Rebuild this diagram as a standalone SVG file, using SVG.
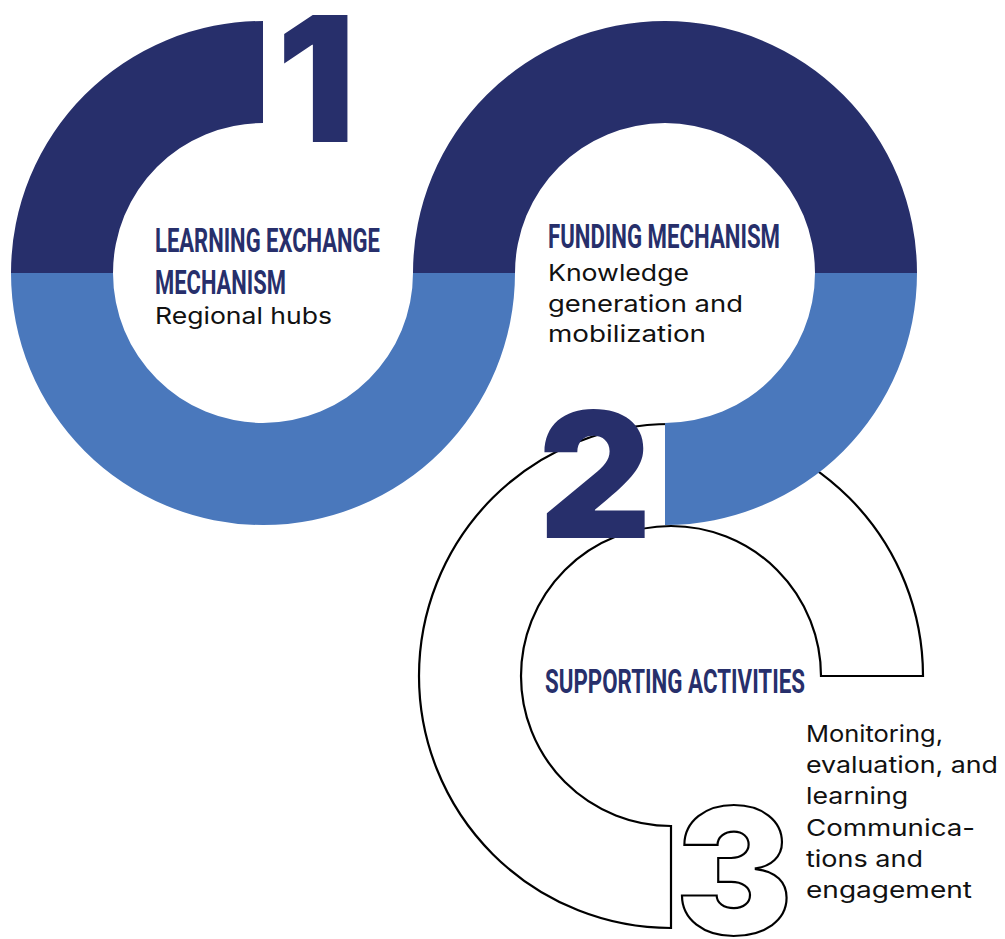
<svg xmlns="http://www.w3.org/2000/svg" width="1005" height="939" viewBox="0 0 1005 939">
  <style>
    .dark { fill: #272f6b; }
    .blue { fill: #4a78bc; }
    .outline { fill: #ffffff; stroke: #000000; stroke-width: 2.2; stroke-linejoin: miter; }
    .head { font-family: "Liberation Sans Narrow", "Roboto", "Liberation Sans", sans-serif; font-weight: 700; font-size: 33px; fill: #272f6b; }
    .body { font-family: "Inter", "Open Sans", "Liberation Sans", sans-serif; font-weight: 400; font-size: 23px; fill: #111111; }
    .num { font-family: "Inter", "Roboto", "Liberation Sans", sans-serif; font-weight: 900; font-size: 175px; text-anchor: middle; }
  </style>
  <rect width="1005" height="939" fill="#ffffff"/>

  <g id="supporting-activities">
    <path class="outline" d="M 923 676 A 252 252 0 1 0 671 928 L 671 826 A 150 150 0 1 1 821 676 Z"/>
  </g>

  <g id="learning-exchange">
    <path class="dark" d="M 11 273 A 252 252 0 0 1 263 21 L 263 123 A 150 150 0 0 0 113 273 Z"/>
    <path class="blue" d="M 11 273 A 252 252 0 0 0 515 273 L 413 273 A 150 150 0 0 1 113 273 Z"/>
    <text class="num" x="316" y="142" fill="#272f6b">1</text>
    <text class="head" x="155" y="252" textLength="225" lengthAdjust="spacingAndGlyphs">LEARNING EXCHANGE</text>
    <text class="head" x="155" y="294" textLength="131" lengthAdjust="spacingAndGlyphs">MECHANISM</text>
    <text class="body" x="155" y="324" textLength="177" lengthAdjust="spacingAndGlyphs">Regional hubs</text>
  </g>

  <g id="funding-mechanism">
    <path class="dark" d="M 413 273 A 252 252 0 0 1 917 273 L 815 273 A 150 150 0 0 0 515 273 Z"/>
    <path class="blue" d="M 917 273 A 252 252 0 0 1 665 525 L 665 423 A 150 150 0 0 0 815 273 Z"/>
    <text class="num" x="595" y="538" fill="#272f6b">2</text>
    <text class="head" x="548" y="248" textLength="232" lengthAdjust="spacingAndGlyphs">FUNDING MECHANISM</text>
    <text class="body" x="548" y="281" textLength="141" lengthAdjust="spacingAndGlyphs">Knowledge</text>
    <text class="body" x="548" y="312" textLength="195" lengthAdjust="spacingAndGlyphs">generation and</text>
    <text class="body" x="548" y="342" textLength="158" lengthAdjust="spacingAndGlyphs">mobilization</text>
  </g>

  <g id="supporting-labels">
    <text class="num" x="734" y="934" fill="#ffffff" stroke="#000000" stroke-width="2.2">3</text>
    <text class="head" x="545" y="693" textLength="260" lengthAdjust="spacingAndGlyphs">SUPPORTING ACTIVITIES</text>
    <text class="body" x="806" y="742" textLength="137" lengthAdjust="spacingAndGlyphs">Monitoring,</text>
    <text class="body" x="806" y="773" textLength="192" lengthAdjust="spacingAndGlyphs">evaluation, and</text>
    <text class="body" x="806" y="804" textLength="102" lengthAdjust="spacingAndGlyphs">learning</text>
    <text class="body" x="806" y="836" textLength="169" lengthAdjust="spacingAndGlyphs">Communica-</text>
    <text class="body" x="806" y="867" textLength="117" lengthAdjust="spacingAndGlyphs">tions and</text>
    <text class="body" x="806" y="898" textLength="166" lengthAdjust="spacingAndGlyphs">engagement</text>
  </g>
</svg>
